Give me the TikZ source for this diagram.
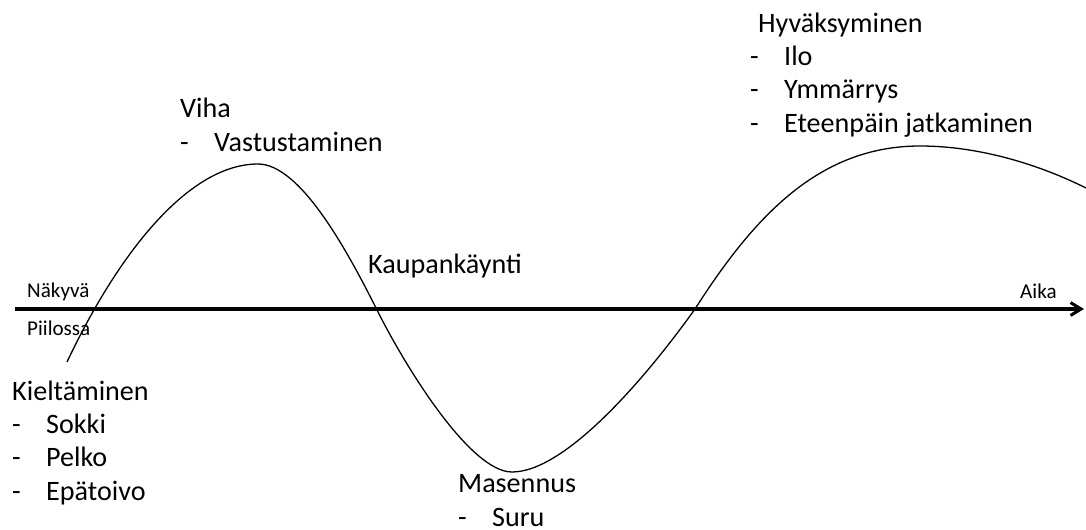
\documentclass[tikz,border=0pt]{standalone}
\usepackage{fontspec}
\setmainfont{Carlito}
\usetikzlibrary{arrows.meta}
\tikzset{
  stage/.style={anchor=base west, inner sep=0pt, align=left,
                font=\fontsize{24}{28.4}\selectfont},
  side/.style={anchor=base west, inner sep=0pt, font=\fontsize{18}{21.6}\selectfont},
  axisline/.style={line width=2.6pt, -{Straight Barb[length=9pt, width=11pt]}},
  curveline/.style={line width=1.1pt, line join=round},
}
\newcommand{\bul}[1]{\makebox[29pt][l]{-}#1}

\begin{document}
\begin{tikzpicture}[x=0.03cm, y=-0.03cm]
\useasboundingbox (0,0) rectangle (1086,529);

% time axis
\coordinate (axstart) at (15,309);
\coordinate (axend)   at (1084,309);
\draw[axisline] (axstart) -- (axend);

\node[side] (visible) at (27,297)   {Näkyvä};
\node[side] (hidden)  at (27,335)   {Piilossa};
\node[side] (time)    at (1020,298) {Aika};

% emotion curve (multi-line nodes sit on their last baseline)
\coordinate (c0) at (67,362);
\coordinate (c1) at (258,164);
\coordinate (c2) at (377,310);
\coordinate (c3) at (512,472);
\coordinate (c4) at (695,309);
\coordinate (c5) at (920,146);
\coordinate (c6) at (1086,188);
\draw[curveline] (c0) .. controls (120,250) and (190,164) .. (c1)
                      .. controls (300,164) and (347,250) .. (c2)
                      .. controls (405,366) and (470,472) .. (c3)
                      .. controls (565,472) and (645,379) .. (c4)
                      .. controls (755,215) and (820,146) .. (c5)
                      .. controls (980,146) and (1040,165) .. (c6);

% stages
\node[stage] (denial)   at (12,500)  {Kieltäminen\\\bul{Sokki}\\\bul{Pelko}\\\bul{Epätoivo}};
\node[stage] (anger)    at (180,151) {Viha\\\bul{Vastustaminen}};
\node[stage] (bargain)  at (368,273) {Kaupankäynti};
\node[stage] (depress)  at (458,526) {Masennus\\\bul{Suru}};
\node[stage] (accept)   at (750,132) {\hspace*{6.8pt}Hyväksyminen\\\bul{Ilo}\\\bul{Ymmärrys}\\\bul{Eteenpäin jatkaminen}};
\end{tikzpicture}
\end{document}
